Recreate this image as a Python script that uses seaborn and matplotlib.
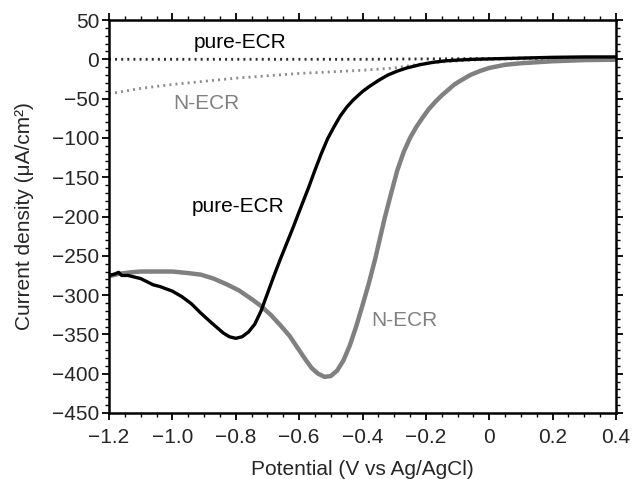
import numpy as np
import pandas as pd
import matplotlib
matplotlib.use("Agg")
import matplotlib.pyplot as plt
import seaborn as sns
from matplotlib.ticker import MultipleLocator, FuncFormatter

# ---- data ----
pure_x = [-1.20, -1.18, -1.17, -1.16, -1.14, -1.12, -1.10, -1.08, -1.06, -1.04, -1.02, -1.00,
          -0.97, -0.94, -0.91, -0.88, -0.86, -0.84, -0.82, -0.80, -0.78, -0.76, -0.74, -0.72,
          -0.70, -0.68, -0.66, -0.64, -0.62, -0.60, -0.57, -0.55, -0.53, -0.51, -0.49, -0.47,
          -0.45, -0.43, -0.40, -0.38, -0.35, -0.32, -0.29, -0.26, -0.22, -0.18, -0.14, -0.10,
          -0.05, 0.00, 0.10, 0.20, 0.30, 0.40]
pure_y = [-275, -273, -271, -275, -275, -277, -279, -283, -287, -289, -292, -295,
          -302, -311, -323, -334, -341, -348, -353, -355, -353, -347, -337, -320,
          -298, -276, -255, -235, -215, -194, -163, -141, -120, -101, -86, -72,
          -61, -52, -41, -35, -27, -20, -15, -11, -7, -4, -2, -1,
          0, 0.5, 1.5, 2.5, 3, 3]

n_x = [-1.20, -1.17, -1.13, -1.10, -1.05, -1.00, -0.95, -0.91, -0.87, -0.83, -0.79, -0.75,
       -0.72, -0.69, -0.66, -0.63, -0.60, -0.58, -0.56, -0.54, -0.52, -0.50, -0.48, -0.46,
       -0.44, -0.42, -0.40, -0.38, -0.36, -0.345, -0.33, -0.31, -0.29, -0.27, -0.25, -0.23,
       -0.21, -0.19, -0.17, -0.15, -0.13, -0.11, -0.09, -0.06, -0.03, 0.00, 0.05, 0.10,
       0.20, 0.30, 0.40]
n_y = [-276, -273, -271, -270, -270, -270, -272, -274, -279, -286, -294, -305,
       -314, -325, -338, -352, -370, -382, -393, -400, -404, -403, -396, -383,
       -364, -340, -313, -285, -254, -228, -202, -171, -141, -118, -100, -86,
       -74, -63, -54, -46, -39, -32, -27, -20, -15, -11, -7, -5,
       -2.5, -1, -0.5]

pure_base_x = [-1.20, -0.80, -0.40, -0.20, 0.00, 0.20, 0.40]
pure_base_y = [0, 0, 0, 0.5, 1, 2, 2]

n_base_x = [-1.20, -1.10, -1.00, -0.90, -0.80, -0.70, -0.60, -0.50, -0.40, -0.30, -0.25,
            -0.20, -0.10, 0.00, 0.10, 0.20, 0.30, 0.40]
n_base_y = [-44, -37, -32, -28, -24, -21, -18, -16, -14, -11, -8, -5, -2, 0, 0.5, 1, 1, 1]

labels = [("pure-ECR", -0.787, 22, "black"),
          ("N-ECR", -0.894, -56, "#808080"),
          ("pure-ECR", -0.793, -187, "black"),
          ("N-ECR", -0.269, -332, "#808080")]

x_ticks = [-1.2, -1.0, -0.8, -0.6, -0.4, -0.2, 0.0, 0.2, 0.4]
y_ticks = list(range(-450, 51, 50))

# ---- plotting ----
sns.set_theme(style="ticks")
plt.rcParams["font.family"] = ["Liberation Sans", "DejaVu Sans"]

fig = plt.figure(figsize=(6.32, 4.79), dpi=100)
ax = fig.add_axes([109 / 632, 66 / 479, 507 / 632, 393 / 479])

gray = "#808080"
sns.lineplot(x=n_base_x, y=n_base_y, ax=ax, color="#8a8a8a", lw=2.0,
             linestyle=(0, (0.7, 1.5)), estimator=None, sort=False)
sns.lineplot(x=pure_base_x, y=pure_base_y, ax=ax, color="#2a2a2a", lw=2.0,
             linestyle=(0, (0.7, 1.5)), estimator=None, sort=False)
sns.lineplot(x=n_x, y=n_y, ax=ax, color=gray, lw=3.2, estimator=None, sort=False)
sns.lineplot(x=pure_x, y=pure_y, ax=ax, color="black", lw=2.4, estimator=None, sort=False)
for ln in ax.get_lines():
    ln.set_solid_joinstyle("round")

for txt, tx, ty, c in labels:
    ax.text(tx, ty, txt, color=c, fontsize=15, ha="center", va="center")

ax.set_xlim(-1.2, 0.4)
ax.set_ylim(-450, 50)
ax.set_xticks(x_ticks)
ax.set_yticks(y_ticks)
ax.xaxis.set_minor_locator(MultipleLocator(0.05))
ax.yaxis.set_minor_locator(MultipleLocator(10))

def fmt_x(v, pos):
    if abs(v) < 1e-9:
        return "0"
    return f"{v:.1f}".replace("-", "\u2212")

def fmt_y(v, pos):
    return f"{int(round(v))}".replace("-", "\u2212")

ax.xaxis.set_major_formatter(FuncFormatter(fmt_x))
ax.yaxis.set_major_formatter(FuncFormatter(fmt_y))

ax.tick_params(which="both", direction="out", top=True, right=True,
               labeltop=False, labelright=False, color="black")
ax.tick_params(which="major", length=5, width=1.3, labelsize=15)
ax.tick_params(axis="x", which="major", pad=6)
ax.tick_params(axis="y", which="major", pad=2)
ax.tick_params(which="minor", length=3, width=1.0)
for s in ax.spines.values():
    s.set_visible(True)
    s.set_linewidth(1.8)
    s.set_color("black")

ax.set_xlabel("Potential (V vs Ag/AgCl)", fontsize=15, labelpad=9)
ax.set_ylabel("Current density (\u03bcA/cm\u00b2)", fontsize=15, labelpad=13)

fig.savefig("out.png", dpi=100)
